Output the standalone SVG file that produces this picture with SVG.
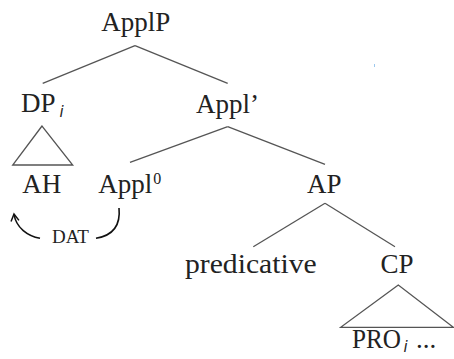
<svg xmlns="http://www.w3.org/2000/svg" width="454" height="359" viewBox="0 0 454 359">
<style>
text{fill:#222}
.n{font-size:27px}
.sub{font-style:italic;font-size:15px}
.sup{font-size:16px}
.dat{font-size:19px}
.edge{stroke:#555;stroke-width:1.3;fill:none}
.arc{stroke:#111;stroke-width:1.6;fill:none}
</style>
<defs>
<marker id="ah" viewBox="0 0 10 10" refX="8" refY="5" markerWidth="10" markerHeight="10" markerUnits="userSpaceOnUse" orient="auto">
<path d="M1,1 L8,5 L1,9" fill="none" stroke="#111" stroke-width="1.5"/>
</marker>
</defs>
<rect x="374" y="64" width="1" height="3" fill="#9cc8ee"/>
<g id="connectors">
<path class="edge" d="M135,45.7 L42.7,83.3"/>
<path class="edge" d="M135,45.7 L227.7,83.3"/>
<path class="edge" d="M42,126 L12.7,165 L72.7,165 Z"/>
<path class="edge" d="M227.7,126.7 L130,162.3"/>
<path class="edge" d="M227.7,126.7 L325,164.3"/>
<path class="edge" d="M325,203.3 L253.3,246.7"/>
<path class="edge" d="M325,203.3 L395,246.7"/>
<path class="edge" d="M398.3,285 L340.7,327.3 L453.3,327.3 Z"/>
<path class="arc" d="M40,238.3 C28,236 16,228 14,214" marker-end="url(#ah)"/>
<path class="arc" d="M96,238.3 C110,236 121,228 119,208"/>
</g>
<g id="labels" font-family="Liberation Serif, serif">
<g id="ApplP"><text class="n" x="135.8" y="31" text-anchor="middle">ApplP</text></g>
<g id="DP"><text class="n" x="21" y="112.3">DP</text><text class="sub" x="59.5" y="117" font-family="DejaVu Sans, sans-serif">i</text></g>
<g id="ApplBar"><text class="n" x="196" y="113">Appl’</text></g>
<g id="AH"><text class="n" x="41.7" y="193.3" text-anchor="middle">AH</text></g>
<g id="Appl0"><text class="n" x="98.3" y="193.3">Appl</text><text class="sup" x="153.3" y="183.5">0</text></g>
<g id="DAT"><text class="dat" x="70.5" y="243" text-anchor="middle">DAT</text></g>
<g id="AP"><text class="n" x="307" y="193">AP</text></g>
<g id="predicative"><text class="n" x="185" y="273.3" textLength="131.7" lengthAdjust="spacingAndGlyphs">predicative</text></g>
<g id="CP"><text class="n" x="380.5" y="273">CP</text></g>
<g id="PRO"><text class="n" x="352" y="348.3" textLength="49" lengthAdjust="spacingAndGlyphs">PRO</text><text class="sub" x="403.5" y="352" font-family="DejaVu Sans, sans-serif">i</text><text class="n" x="416" y="348.3">...</text></g>
</g>
</svg>
